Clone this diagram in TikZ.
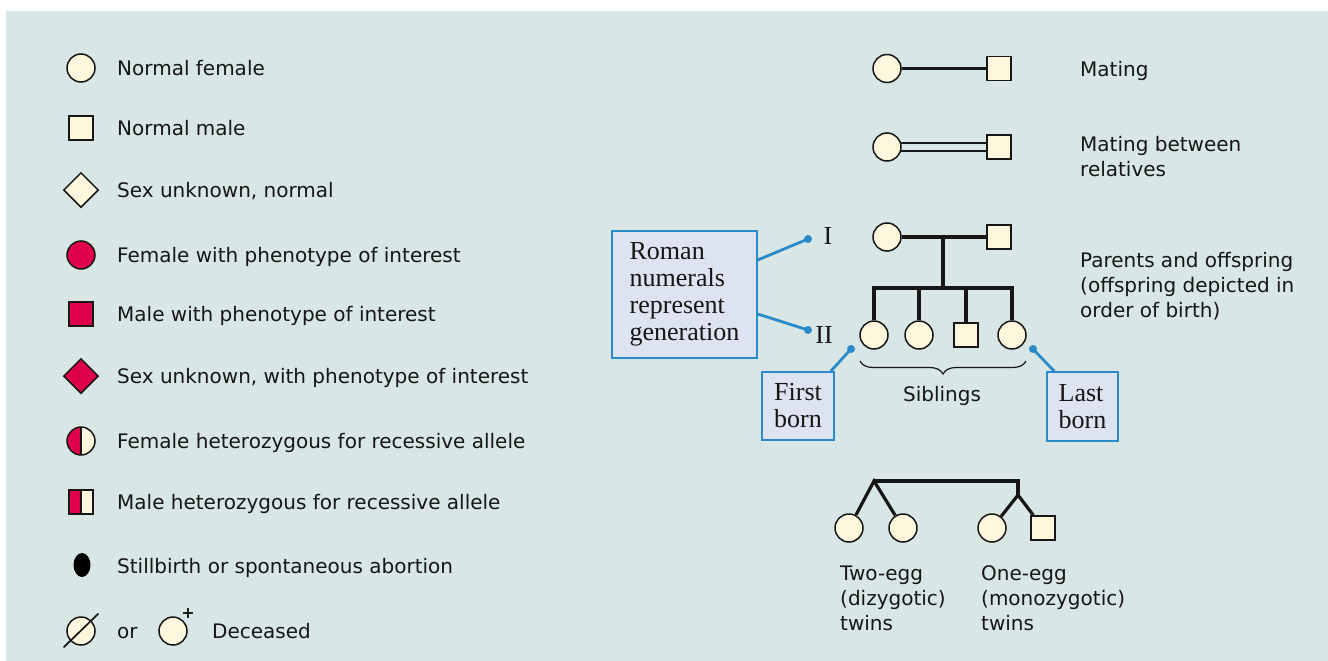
\documentclass[tikz,border=0pt]{standalone}
\usepackage{fontspec}
\newfontfamily\labfont{DejaVu Sans}
\newfontfamily\serfont{Liberation Serif}
\usetikzlibrary{shapes.geometric,decorations.pathreplacing,calc}
\definecolor{bg}{RGB}{216,231,230}
\definecolor{cream}{RGB}{255,246,222}
\definecolor{pheno}{RGB}{222,0,72}
\definecolor{boxfill}{RGB}{221,227,241}
\definecolor{callblue}{RGB}{43,138,200}
\definecolor{ink}{RGB}{22,22,22}
\pgfdeclarelayer{bgl}
\pgfdeclarelayer{conn}
\pgfsetlayers{bgl,conn,main}
\begin{document}
\begin{tikzpicture}[x=1pt,y=-1pt,
 fem/.style={circle,draw=ink,line width=1.5pt,fill=cream,minimum size=28pt,inner sep=0pt},
 mal/.style={rectangle,draw=ink,line width=1.5pt,fill=cream,minimum size=24pt,inner sep=0pt},
 unk/.style={diamond,draw=ink,line width=1.5pt,fill=cream,minimum size=35pt,inner sep=0pt},
 aff/.style={fill=pheno},
 halfred/.style={path picture={\fill[pheno] (path picture bounding box.south west) rectangle (path picture bounding box.north); \draw[ink,line width=1.5pt] (path picture bounding box.south) -- (path picture bounding box.north);}},
 lbl/.style={anchor=base west,inner sep=0pt,text=ink,font=\labfont\fontsize{20}{25}\selectfont,align=left},
 link/.style={line width=3.2pt,draw=ink},
 serif/.style={font=\serfont\fontsize{26}{27}\selectfont,text=ink},
 callbox/.style={draw=callblue,line width=1.4pt,fill=boxfill,align=left,serif,inner sep=0pt},
 callline/.style={draw=callblue,line width=2.8pt},
]
\useasboundingbox (0,0) rectangle (1328,661);
\begin{pgfonlayer}{bgl}
\fill[bg] (6,11) rectangle (1328,661);
\end{pgfonlayer}

% ---------- legend (left) ----------
\node[fem] (nf) at (81,68) {};
\node[lbl] (nfl) at (117,75) {Normal female};
\node[mal] (nm) at (81,128) {};
\node[lbl] (nml) at (117,135) {Normal male};
\node[unk] (nu) at (81,190) {};
\node[lbl] (nul) at (117,197) {Sex unknown, normal};
\node[fem,aff] (af) at (81,255) {};
\node[lbl] (afl) at (117,262) {Female with phenotype of interest};
\node[mal,aff] (am) at (81,314) {};
\node[lbl] (aml) at (117,321) {Male with phenotype of interest};
\node[unk,aff] (au) at (81,376) {};
\node[lbl] (aul) at (117,383) {Sex unknown, with phenotype of interest};
\node[fem,halfred] (hf) at (81,441) {};
\node[lbl] (hfl) at (117,448) {Female heterozygous for recessive allele};
\node[mal,halfred] (hm) at (81,502) {};
\node[lbl] (hml) at (117,509) {Male heterozygous for recessive allele};
\node[ellipse,fill=black,minimum width=17pt,minimum height=24pt,inner sep=0pt] (sb) at (82,565) {};
\node[lbl] (sbl) at (117,573) {Stillbirth or spontaneous abortion};
\node[fem] (d1) at (81,631) {};
\draw[ink,line width=1.7pt] ([shift={(-7,6)}]d1.south west) -- ([shift={(7,-7)}]d1.north east);
\node[lbl] (orl) at (117,638) {or};
\node[fem] (d2) at (173,631) {};
\node[inner sep=0pt,text=ink,font=\labfont\fontsize{16}{16}\selectfont\bfseries] (plus) at (188,613) {+};
\node[lbl] (decl) at (212,638) {Deceased};

% ---------- matings ----------
\node[fem] (m1f) at (887,68.5) {};
\node[mal] (m1m) at (999,68.5) {};
\node[lbl] (m1l) at (1080,77) {Mating};
\node[fem] (m2f) at (887,147) {};
\node[mal] (m2m) at (999,147) {};
\node[lbl] (m2l) at (1080,176) {Mating between\\relatives};
\begin{pgfonlayer}{conn}
\draw[link] (m1f) -- (m1m);
\draw[line width=2.6pt,draw=ink,double=bg,double distance=5.4pt,shorten <=-2pt,shorten >=-2pt] (m2f) -- (m2m);
\end{pgfonlayer}

% ---------- parents and offspring ----------
\node[fem] (pf) at (887,237) {};
\node[mal] (pm) at (999,237) {};
\coordinate (pmid) at ($(pf)!0.5!(pm)$);
\coordinate (sib) at (943,288);
\node[fem] (c1) at (874,335) {};
\node[fem] (c2) at (919,335) {};
\node[mal] (c3) at (966,335) {};
\node[fem] (c4) at (1012,335) {};
\node[lbl] (pol) at (1080,317) {Parents and offspring\\(offspring depicted in\\order of birth)};
\begin{pgfonlayer}{conn}
\draw[link] (pf) -- (pm);
\draw[link] (pmid) -- (sib);
\draw[link] (c1.north) |- (sib) -| (c4.north);
\draw[link] (c2.north) -- (c2.north |- sib);
\draw[link] (c3.north) -- (c3.north |- sib);
\end{pgfonlayer}

\node[serif,anchor=base,inner sep=0pt] (gI) at (828,244) {I};
\node[serif,anchor=base,inner sep=0pt] (gII) at (824,343) {II};
\coordinate (dI) at (808,239);
\coordinate (dII) at (808,330);
\node[callbox,minimum width=145pt,minimum height=127pt] (rbox) at (684.5,294.5) {Roman\\numerals\\represent\\generation};
\draw[callline] ($(rbox.east)+(0,-34.5)$) -- (dI);
\draw[callline] ($(rbox.east)+(0,19.5)$) -- (dII);
\fill[callblue] (dI) circle (4);
\fill[callblue] (dII) circle (4);

\coordinate (dF) at (851,349);
\node[callbox,minimum width=72pt,minimum height=68pt] (fbox) at (798,406) {First\\born};
\draw[callline] ($(fbox.north east)+(-4,0)$) -- (dF);
\fill[callblue] (dF) circle (4);

\coordinate (dL) at (1033,349);
\node[callbox,minimum width=71pt,minimum height=69pt] (lbox) at (1082.5,406.5) {Last\\born};
\draw[callline] ($(lbox.north west)+(8,0)$) -- (dL);
\fill[callblue] (dL) circle (4);

\coordinate (brL) at (860,361);
\coordinate (brR) at (1026,361);
\draw[ink,line width=1.2pt,decorate,decoration={brace,mirror,amplitude=13pt}] (brL) -- (brR);
\node[lbl,anchor=base] (sibl) at (942,401) {Siblings};

% ---------- twins ----------
\coordinate (tw1) at (874,481);
\coordinate (tw2) at (1018,481);
\coordinate (tw3) at (1018,495);
\node[fem] (t1) at (849,528) {};
\node[fem] (t2) at (903,528) {};
\node[fem] (t3) at (992,528) {};
\node[mal] (t4) at (1043,528) {};
\begin{pgfonlayer}{conn}
\draw[link] (t1) -- (tw1) -- (t2);
\draw[link] (tw1) -- (tw2) -- (tw3);
\draw[link] (t3) -- (tw3) -- (t4);
\end{pgfonlayer}
\node[lbl] (dzl) at (840,630) {Two-egg\\(dizygotic)\\twins};
\node[lbl] (mzl) at (981,630) {One-egg\\(monozygotic)\\twins};
\end{tikzpicture}
\end{document}
